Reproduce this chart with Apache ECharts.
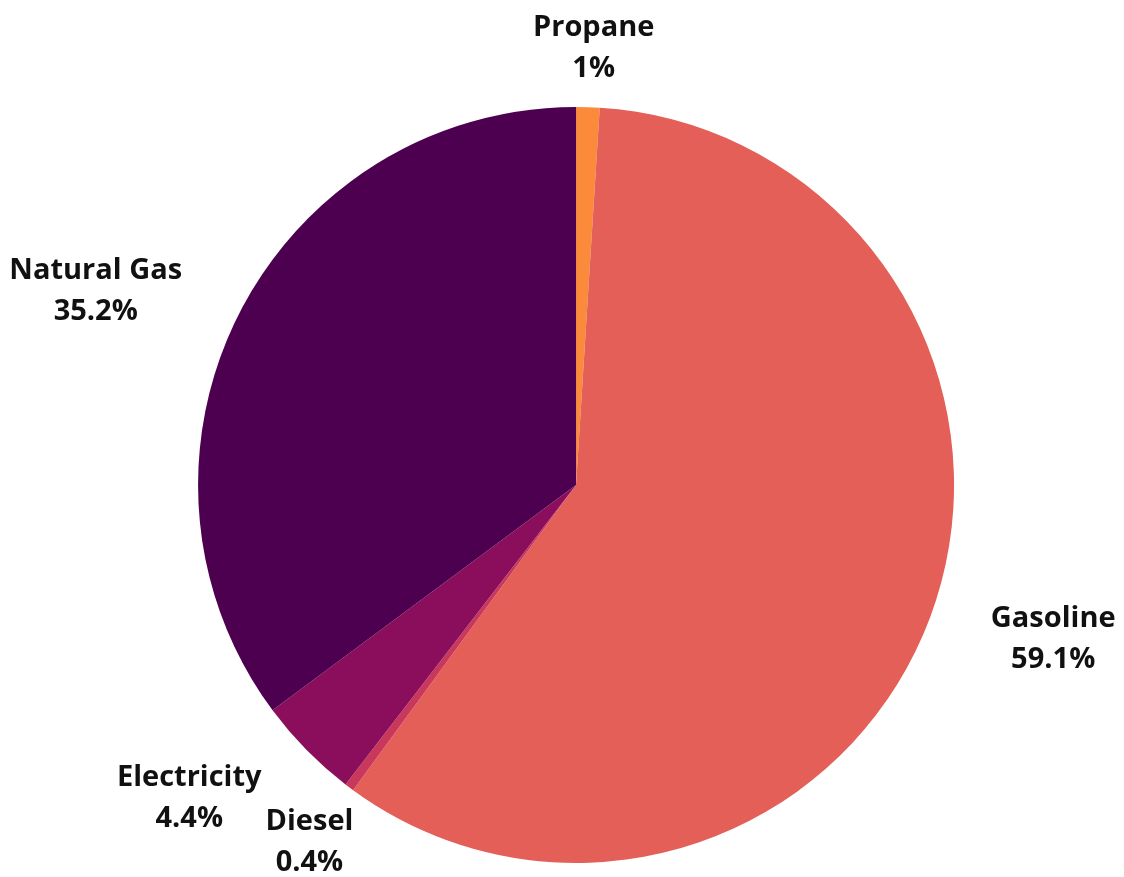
<!DOCTYPE html>
<html>
<head>
<meta charset="utf-8">
<script src="https://cdn.jsdelivr.net/npm/echarts@6/dist/echarts.min.js"></script>
<style>html,body{margin:0;padding:0;background:#fff;}#c{width:1124px;height:877px;}</style>
</head>
<body>
<div id="c"></div>
<script>
const categories = ['Propane', 'Gasoline', 'Diesel', 'Electricity', 'Natural Gas'];
const values = [1, 59.1, 0.4, 4.4, 35.2];
const colors = ['#fb8b3b', '#e35f58', '#c9385b', '#8a0e5b', '#4d004f'];

const FONT_SIZE = 29, LINE_H = 41, FONT_FAMILY = 'Open Sans', TEXT_DY = 4;
const CENTER = [0.5125, 0.553], RADIUS = 378, LABEL_DIST = 63;

const el = document.getElementById('c');
const chart = echarts.init(el, null, {renderer: 'canvas'});
const W = chart.getWidth(), H = chart.getHeight();
const cx = W * CENTER[0], cy = H * CENTER[1];

const texts = categories.map((c, i) => c + '\n' + values[i] + '%');
const ctx = document.createElement('canvas').getContext('2d');
ctx.font = 'bold ' + FONT_SIZE + 'px "' + FONT_FAMILY + '"';
const total = values.reduce((a, b) => a + b, 0);
let acc = 0;
const boxes = values.map((v, i) => {
  const mid = (acc + v / 2) / total * 2 * Math.PI; acc += v;
  const ux = Math.sin(mid), uy = -Math.cos(mid);
  const w = Math.max(...texts[i].split('\n').map(t => ctx.measureText(t).width));
  const h = LINE_H * 2;
  const d = RADIUS + LABEL_DIST;
  const shift = Math.sign(ux) * (w / 2) * Math.min(1, Math.abs(ux) / 0.5);
  return {x: cx + ux * d + shift, y: cy + uy * d, w, h, v};
});
// resolve overlaps horizontally: the smaller slice's label moves away
for (let i = 0; i < boxes.length; i++) {
  for (let j = 0; j < boxes.length; j++) {
    if (i === j) continue;
    const a = boxes[i], b = boxes[j];
    if (a.v >= b.v) continue;
    const ox = (a.w + b.w) / 2 - Math.abs(a.x - b.x);
    const oy = (a.h + b.h) / 2 - Math.abs(a.y - b.y);
    if (ox > 0 && oy > 0) a.x += Math.sign(a.x - b.x || 1) * (ox + 4);
  }
}

chart.setOption({
  animation: false,
  backgroundColor: '#ffffff',
  series: [{
    type: 'pie',
    center: [(CENTER[0] * 100) + '%', (CENTER[1] * 100) + '%'],
    radius: RADIUS,
    startAngle: 90,
    clockwise: true,
    avoidLabelOverlap: false,
    data: categories.map((c, i) => ({name: c, value: values[i], itemStyle: {color: colors[i]}})),
    label: {
      show: true,
      position: 'outside',
      formatter: p => texts[p.dataIndex],
      fontFamily: FONT_FAMILY,
      fontWeight: 'bold',
      fontSize: FONT_SIZE,
      lineHeight: LINE_H,
      color: '#111111'
    },
    labelLine: {show: false, length: 30, length2: 10},
    labelLayout: function (params) {
      const b = boxes[params.dataIndex];
      return {x: b.x, y: b.y + TEXT_DY, align: 'center', verticalAlign: 'middle'};
    }
  }]
});
</script>
</body>
</html>
